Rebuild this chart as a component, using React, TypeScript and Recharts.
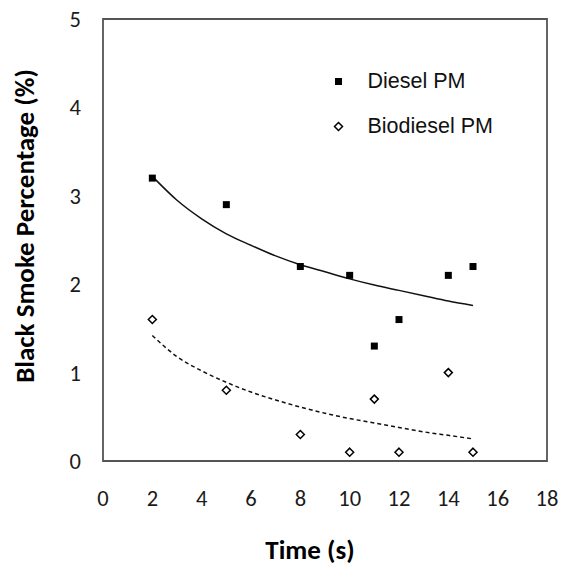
import React from 'react';
import { ComposedChart, Scatter, Line, XAxis, YAxis, Legend, ReferenceArea } from 'recharts';

const dieselTime = [2, 5, 8, 10, 11, 12, 14, 15];
const dieselPM = [3.2, 2.9, 2.2, 2.1, 1.3, 1.6, 2.1, 2.2];
const bioTime = [2, 5, 8, 10, 11, 12, 14, 15];
const bioPM = [1.6, 0.8, 0.3, 0.1, 0.7, 0.1, 1.0, 0.1];

const trendTime = [2, 3, 4, 5, 6, 7, 8, 9, 10, 11, 12, 13, 14, 15];
const dieselTrend = [3.22, 2.95, 2.74, 2.57, 2.44, 2.32, 2.22, 2.14, 2.06, 1.99, 1.93, 1.87, 1.81, 1.76];
const bioTrend = [1.42, 1.18, 1.02, 0.89, 0.78, 0.69, 0.61, 0.54, 0.48, 0.43, 0.38, 0.33, 0.29, 0.25];

const xTicks = [0, 2, 4, 6, 8, 10, 12, 14, 16, 18];
const yTicks = [0, 1, 2, 3, 4, 5];

const seriesNames = ['Diesel PM', 'Biodiesel PM'];
const xTitle = 'Time (s)';
const yTitle = 'Black Smoke Percentage (%)';

const dieselData = dieselTime.map((x, i) => ({ x, y: dieselPM[i] }));
const bioData = bioTime.map((x, i) => ({ x, y: bioPM[i] }));
const dieselTrendData = trendTime.map((x, i) => ({ x, t: dieselTrend[i] }));
const bioTrendData = trendTime.map((x, i) => ({ x, t: bioTrend[i] }));

const tickFont = "Calibri, Carlito, 'Open Sans', sans-serif";

const SquareShape = (props: any) => {
  const { cx, cy } = props;
  if (cx == null || cy == null) return null;
  return <rect x={cx - 3.5} y={cy - 3.5} width={7} height={7} fill="#000" />;
};

const DiamondShape = (props: any) => {
  const { cx, cy } = props;
  if (cx == null || cy == null) return null;
  const r = 4;
  return (
    <polygon
      points={`${cx},${cy - r} ${cx + r},${cy} ${cx},${cy + r} ${cx - r},${cy}`}
      fill="#fff"
      stroke="#000"
      strokeWidth={1.5}
    />
  );
};

const LegendContent = () => (
  <div style={{ fontFamily: "'Liberation Sans', Arial, sans-serif", fontSize: 21.5, color: '#111' }}>
    {seriesNames.map((name, i) => (
      <div key={name} style={{ display: 'flex', alignItems: 'center', height: 45 }}>
        <svg width={17} height={17} style={{ display: 'block' }}>
          {i === 0 ? (
            <rect x={5} y={5} width={7} height={7} fill="#000" />
          ) : (
            <polygon points="8.5,4.5 12.5,8.5 8.5,12.5 4.5,8.5" fill="#fff" stroke="#000" strokeWidth={1.5} />
          )}
        </svg>
        <span style={{ marginLeft: 20.5, lineHeight: 1 }}>{name}</span>
      </div>
    ))}
  </div>
);

const XTitle = (props: any) => {
  const { viewBox } = props;
  const cx = viewBox.x + viewBox.width / 2 - 15;
  const y = viewBox.y + viewBox.height - 10;
  return (
    <text x={cx} y={y} textAnchor="middle" fontFamily={tickFont} fontWeight="bold" fontSize={27} fill="#000">
      {xTitle}
    </text>
  );
};

const YTitle = (props: any) => {
  const { viewBox } = props;
  const bx = viewBox.x + 34;
  const cy = 226;
  return (
    <text
      transform={`translate(${bx}, ${cy}) rotate(-90)`}
      textAnchor="middle"
      fontFamily={tickFont}
      fontWeight="bold"
      fontSize={27}
      fill="#000"
    >
      {yTitle}
    </text>
  );
};

export default function App() {
  return (
    <div style={{ position: 'absolute', left: 0, top: 0, background: '#fff' }}>
      <ComposedChart width={564} height={569} margin={{ top: 19, right: 17, bottom: 0, left: 0 }}>
        <XAxis
          type="number"
          dataKey="x"
          domain={[0, 18]}
          ticks={xTicks}
          allowDataOverflow
          height={108}
          axisLine={false}
          tickLine={false}
          tickSize={0}
          tickMargin={29}
          tick={{ fontFamily: tickFont, fontSize: 22.5, fill: '#1a1a1a' }}
          label={<XTitle />}
        />
        <YAxis
          type="number"
          domain={[0, 5]}
          ticks={yTicks}
          width={103}
          axisLine={false}
          tickLine={false}
          tickSize={0}
          tickMargin={22}
          tick={{ fontFamily: tickFont, fontSize: 22.5, fill: '#1a1a1a' }}
          label={<YTitle />}
        />
        <ReferenceArea x1={0} x2={18} y1={0} y2={5} fill="none" stroke="#555" strokeWidth={1.8} ifOverflow="visible" />
        <Line
          data={dieselTrendData}
          dataKey="t"
          type="monotone"
          stroke="#111"
          strokeWidth={1.5}
          dot={false}
          activeDot={false}
          isAnimationActive={false}
          legendType="none"
        />
        <Line
          data={bioTrendData}
          dataKey="t"
          type="monotone"
          stroke="#111"
          strokeWidth={1.5}
          strokeDasharray="4 3"
          dot={false}
          activeDot={false}
          isAnimationActive={false}
          legendType="none"
        />
        <Scatter name={seriesNames[0]} data={dieselData} dataKey="y" shape={<SquareShape />} isAnimationActive={false} />
        <Scatter name={seriesNames[1]} data={bioData} dataKey="y" shape={<DiamondShape />} isAnimationActive={false} />
        <Legend
          layout="horizontal"
          verticalAlign="middle"
          align="center"
          content={<LegendContent />}
          wrapperStyle={{ position: 'absolute', left: 330, top: 59, width: 220, height: 90 }}
        />
      </ComposedChart>
    </div>
  );
}
